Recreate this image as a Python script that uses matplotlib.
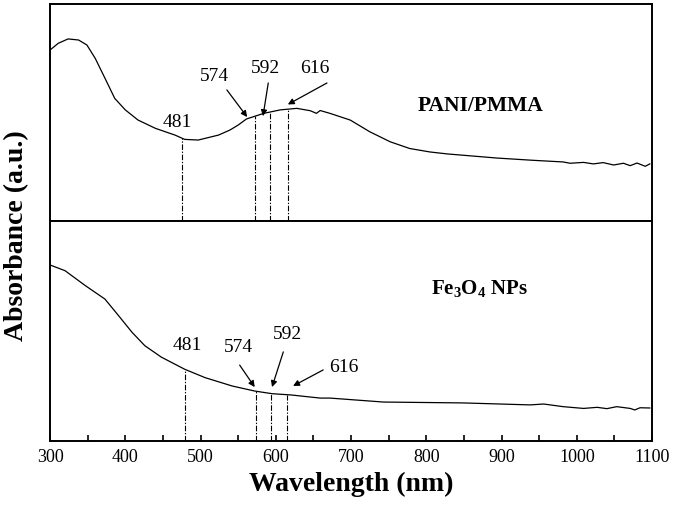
import numpy as np
import matplotlib.pyplot as plt

plt.rcParams['font.family'] = ['Liberation Serif', 'DejaVu Serif']
plt.rcParams['mathtext.fontset'] = 'custom'
plt.rcParams['mathtext.rm'] = 'Liberation Serif:bold'
plt.rcParams['mathtext.default'] = 'rm'

# PANI/PMMA spectrum (arbitrary units)
wl_pani = [300, 311, 324, 338, 349, 360, 373, 386, 400, 417, 440, 466, 479, 497, 524, 539,
           550, 561, 584, 606, 628, 646, 654, 659, 672, 699, 725, 752, 778, 805, 828, 894,
           940, 982, 991, 1009, 1022, 1035, 1049, 1062, 1071, 1080, 1091, 1097]
ab_pani = [0.788, 0.819, 0.839, 0.834, 0.811, 0.750, 0.658, 0.565, 0.512, 0.465, 0.427, 0.396,
           0.376, 0.373, 0.396, 0.419, 0.442, 0.470, 0.496, 0.512, 0.519, 0.508, 0.496, 0.509,
           0.496, 0.465, 0.411, 0.365, 0.334, 0.318, 0.309, 0.290, 0.280, 0.272, 0.266, 0.270,
           0.263, 0.269, 0.258, 0.266, 0.255, 0.267, 0.252, 0.263]

# Fe3O4 NPs spectrum
wl_fe = [300, 320, 347, 373, 391, 409, 426, 448, 479, 506, 542, 572, 595, 621, 659, 672,
         743, 849, 938, 956, 982, 1009, 1027, 1040, 1053, 1071, 1077, 1084, 1097]
ab_fe = [0.800, 0.774, 0.706, 0.645, 0.570, 0.494, 0.433, 0.381, 0.326, 0.288, 0.250, 0.227,
         0.215, 0.209, 0.195, 0.195, 0.177, 0.173, 0.164, 0.168, 0.156, 0.148, 0.153, 0.147,
         0.156, 0.148, 0.141, 0.151, 0.150]

peaks = ['481', '574', '592', '616']
peak_lines_pani = [475, 573, 592, 616]
peak_lines_fe = [480, 574, 593, 615]

fig = plt.figure(figsize=(6.75, 5.12), dpi=100)
ax1 = fig.add_axes([0.0741, 0.5684, 0.8919, 0.4238])
ax2 = fig.add_axes([0.0741, 0.1387, 0.8919, 0.4297])

ax1.plot(wl_pani, ab_pani, color='black', lw=0.9)
ax2.plot(wl_fe, ab_fe, color='black', lw=0.9)

dash = (0, (5, 1.5, 1.2, 1.5))
for x in peak_lines_pani:
    ax1.vlines(x, 0, np.interp(x, wl_pani, ab_pani), colors='black', lw=0.8, linestyles=[dash])
for x in peak_lines_fe:
    ax2.vlines(x, 0, np.interp(x, wl_fe, ab_fe), colors='black', lw=0.8, linestyles=[dash])

arrow = dict(arrowstyle='-|>', color='black', lw=0.9, mutation_scale=9, shrinkA=0, shrinkB=0)
fs = 14

# top panel: label positions, arrow tails and arrow tips (wavelength, absorbance)
txt_top = [(469, 0.456), (519, 0.664), (586, 0.705), (652, 0.705)]
tail_top = [None, (535, 0.604), (590, 0.636), (668, 0.636)]
tip_top = [None, (562, 0.479), (583, 0.483), (616, 0.537)]

# bottom panel
txt_bot = [(483, 0.436), (550, 0.427), (616, 0.482), (691, 0.336)]
tail_bot = [None, (552, 0.345), (610, 0.405), (663, 0.323)]
tip_bot = [None, (572, 0.245), (595, 0.245), (623, 0.250)]

for ax, txt, tail, tip in ((ax1, txt_top, tail_top, tip_top), (ax2, txt_bot, tail_bot, tip_bot)):
    for lab, t, a, b in zip(peaks, txt, tail, tip):
        ax.text(t[0], t[1], lab, fontsize=fs, ha='center', va='center')
        if a is not None:
            ax.annotate('', xy=b, xytext=a, arrowprops=arrow)

ax1.text(872, 0.53, 'PANI/PMMA', fontsize=15.5, fontweight='bold', ha='center', va='center')
ax2.text(870, 0.695, r'Fe$_3$O$_4$ NPs', fontsize=15, fontweight='bold', ha='center', va='center')

for ax in (ax1, ax2):
    ax.set_xlim(300, 1100)
    ax.set_ylim(0, 1)
    ax.set_yticks([])
    for s in ax.spines.values():
        s.set_linewidth(1.4)

ax1.set_xticks([])
ax2.set_xticks(np.arange(300, 1101, 100))
ax2.set_xticks(np.arange(350, 1100, 100), minor=True)
ax2.tick_params(axis='x', which='both', direction='in', length=4, width=1.2,
                labelsize=13, pad=6)

ax2.set_xlabel('Wavelength (nm)', fontsize=20, fontweight='bold', labelpad=4)
fig.text(0.025, 0.539, 'Absorbance (a.u.)', rotation=90, fontsize=20, fontweight='bold',
         ha='center', va='center')

fig.savefig('out.png', dpi=100)
